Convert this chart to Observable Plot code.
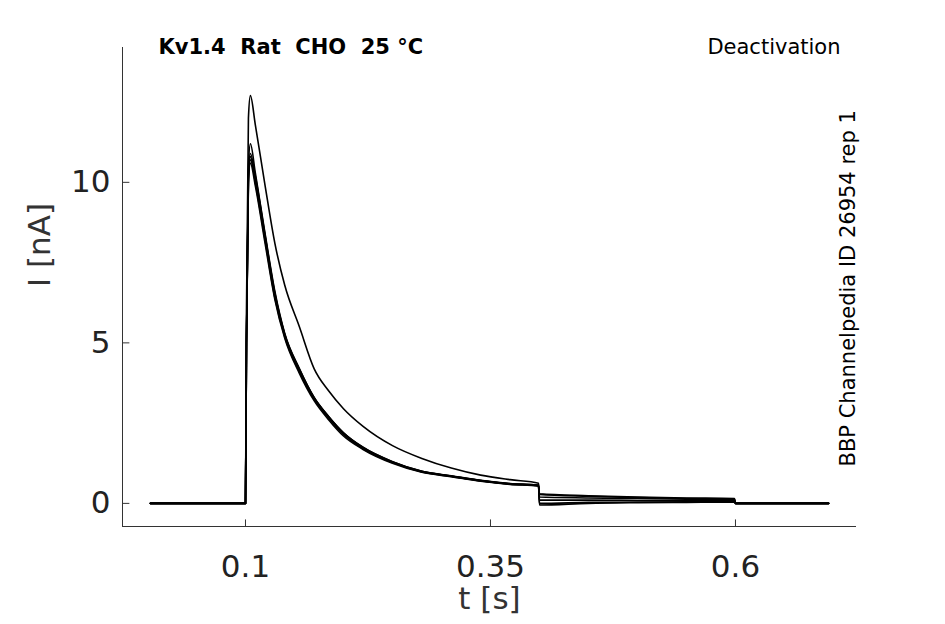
<!DOCTYPE html>
<html><head><meta charset="utf-8">
<script src="https://cdn.jsdelivr.net/npm/d3@7"></script>
<script src="https://cdn.jsdelivr.net/npm/@observablehq/plot@0.6"></script>
<style>body{margin:0;background:#fff}</style>
</head><body><div id="c"></div>
<script>
const times = [0.003,0.1,0.101,0.103,0.105,0.11,0.12,0.13,0.14,0.155,0.17,0.185,0.2,0.22,0.25,0.28,0.31,0.34,0.37,0.399,0.4,0.45,0.5,0.55,0.599,0.6,0.695];
const traceHigh = [0,0,6,12,12.7,11.8,9.9,8.1,6.8,5.5,4.2,3.5,2.95,2.4,1.8,1.4,1.1,0.88,0.74,0.63,0.28,0.22,0.18,0.15,0.13,0,0];
const traceA = [0,0,5,10.5,11.2,10.3,8.4,6.6,5.3,4.2,3.3,2.7,2.2,1.75,1.3,1.0,0.86,0.72,0.62,0.56,0.3,0.24,0.2,0.17,0.15,0,0];
const traceB = [0,0,5,10.2,10.8,10.0,8.2,6.4,5.2,4.1,3.25,2.65,2.15,1.7,1.27,0.98,0.84,0.7,0.6,0.55,0.2,0.17,0.15,0.13,0.12,0,0];
const traceC = [0,0,5,10.0,10.6,9.9,8.1,6.35,5.15,4.05,3.2,2.6,2.1,1.68,1.25,0.97,0.83,0.69,0.59,0.54,0.1,0.1,0.09,0.08,0.08,0,0];
const traceD = [0,0,5,10.1,10.7,10.1,8.3,6.5,5.25,4.15,3.28,2.68,2.18,1.72,1.28,0.99,0.85,0.71,0.61,0.57,0.0,0.03,0.04,0.05,0.05,0,0];
const traceE = [0,0,5,10.3,10.9,10.2,8.35,6.55,5.28,4.18,3.3,2.7,2.2,1.74,1.3,1.0,0.85,0.71,0.61,0.55,-0.05,0.0,0.02,0.03,0.04,0,0];
const traces = [traceHigh, traceA, traceB, traceC, traceD, traceE];
const xTicks = [0.1, 0.35, 0.6];
const yTicks = [0, 5, 10];
const xMin = -0.0255, xMax = 0.7235, yMin = -0.72, yMax = 14.2;

const rows = traces.flatMap((tr, k) => tr.map((v, i) => ({t: times[i], v, k})));
const F = "DejaVu Sans";

const chart = Plot.plot({
  width: 945, height: 624,
  marginLeft: 122, marginRight: 89, marginTop: 47, marginBottom: 98,
  style: {fontFamily: F, color: "#222", background: "#fff"},
  x: {domain: [xMin, xMax], label: null},
  y: {domain: [yMin, yMax], label: null},
  marks: [
    Plot.axisX({ticks: xTicks, tickSize: 0, tickPadding: 28, fontSize: 31, fontFamily: F, tickFormat: d => String(d)}),
    Plot.axisY({ticks: yTicks, tickSize: 0, tickPadding: 12, fontSize: 31, fontFamily: F, tickFormat: d => String(d)}),
    Plot.link(xTicks, {x1: d => d, x2: d => d, y1: yMin, y2: yMin + 0.22, stroke: "#333"}),
    Plot.link(yTicks, {x1: xMin, x2: xMin + 0.007, y1: d => d, y2: d => d, stroke: "#333"}),
    Plot.ruleX([xMin], {stroke: "#333"}),
    Plot.ruleY([yMin], {stroke: "#333"}),
    Plot.lineY(rows, {x: "t", y: "v", z: "k", stroke: "black", strokeWidth: 1.6, curve: "monotone-x"}),
    Plot.text(["t [s]"], {frameAnchor: "bottom", dy: 82, fontSize: 31, fontFamily: F, fill: "#333"}),
    Plot.text(["I [nA]"], {frameAnchor: "left", dx: -82, rotate: -90, fontSize: 31, fontFamily: F, fill: "#333"}),
    Plot.text(["Kv1.4  Rat  CHO  25 °C"], {frameAnchor: "top-left", dx: 36, dy: -8, fontSize: 21, fontWeight: "bold", fontFamily: F, fill: "black", textAnchor: "start"}),
    Plot.text(["Deactivation"], {frameAnchor: "top-right", dx: -16, dy: -8, fontSize: 21, fontFamily: F, fill: "black", textAnchor: "end"}),
    Plot.text(["BBP Channelpedia ID 26954 rep 1"], {x: xMax, y: 6.7, dx: -8, rotate: -90, fontSize: 21, fontFamily: F, fill: "black"})
  ]
});
document.getElementById("c").append(chart);
</script></body></html>
